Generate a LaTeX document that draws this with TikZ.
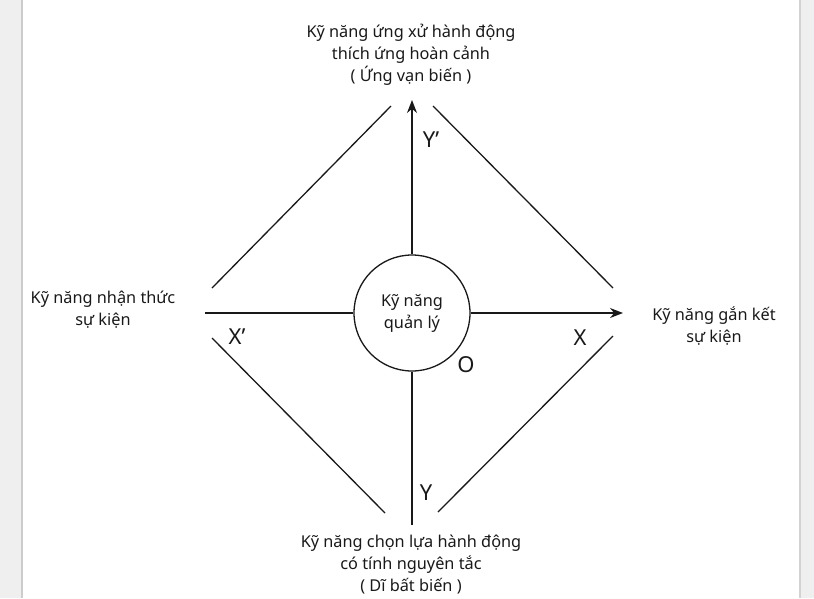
\documentclass[tikz,border=0pt]{standalone}
\usepackage{fontspec}
\setmainfont{Noto Sans}
\usetikzlibrary{arrows.meta}
\begin{document}
\begin{tikzpicture}[x=1pt,y=-1pt,
  ln/.style={line width=1.3pt,black!90},
  lbl/.style={font=\fontsize{16.3}{22}\selectfont,align=center,text=black!90,inner sep=0pt},
  axl/.style={font=\fontsize{22}{24}\selectfont,text=black!90,inner sep=0pt},
  arr/.style={ln,-{Stealth[length=13pt,width=10pt]}}]
\useasboundingbox (0,0) rectangle (814,598);
\fill[blue!3!gray!12] (0,0) rectangle (814,598);
\fill[white] (22,0) rectangle (800,598);
\draw[gray!40,line width=1.5pt] (22,0) -- (22,598);
\draw[gray!35,line width=2pt] (800,0) -- (800,598);
% center circle
\node[draw,circle,ln,minimum size=116pt,inner sep=0pt,lbl] (c) at (412,313) {Kỹ năng\\quản lý};
% ends
\coordinate (top) at (412,100);
\coordinate (bot) at (412,525);
\coordinate (lft) at (205,313);
\coordinate (rgt) at (623,313);
\draw[arr] (c.north) -- (top);
\draw[ln] (c.south) -- (bot);
\draw[ln] (c.west) -- (lft);
\draw[arr] (c.east) -- (rgt);
% diagonals
\coordinate (ul1) at (212,288); \coordinate (ul2) at (391,106);
\coordinate (ur1) at (433,106); \coordinate (ur2) at (613,288);
\coordinate (ll1) at (212,338); \coordinate (ll2) at (385,513);
\coordinate (lr1) at (438,512); \coordinate (lr2) at (613,336);
\draw[ln] (ul1) -- (ul2);
\draw[ln] (ur1) -- (ur2);
\draw[ln] (ll1) -- (ll2);
\draw[ln] (lr1) -- (lr2);
% axis labels
\node[axl] (yp) at (431,140) {Y’};
\node[axl] (xp) at (237,337) {X’};
\node[axl] (x) at (580,338) {X};
\node[axl] (o) at (466,365) {O};
\node[axl] (y) at (426,493) {Y};
% text labels
\node[lbl] (tl) at (411,55) {Kỹ năng ứng xử hành động\\thích ứng hoàn cảnh\\( Ứng vạn biến )};
\node[lbl] (ll) at (103,310) {Kỹ năng nhận thức\\sự kiện};
\node[lbl] (rl) at (714,326) {Kỹ năng gắn kết\\sự kiện};
\node[lbl] (bl) at (411,565) {Kỹ năng chọn lựa hành động\\có tính nguyên tắc\\( Dĩ bất biến )};
\end{tikzpicture}
\end{document}
